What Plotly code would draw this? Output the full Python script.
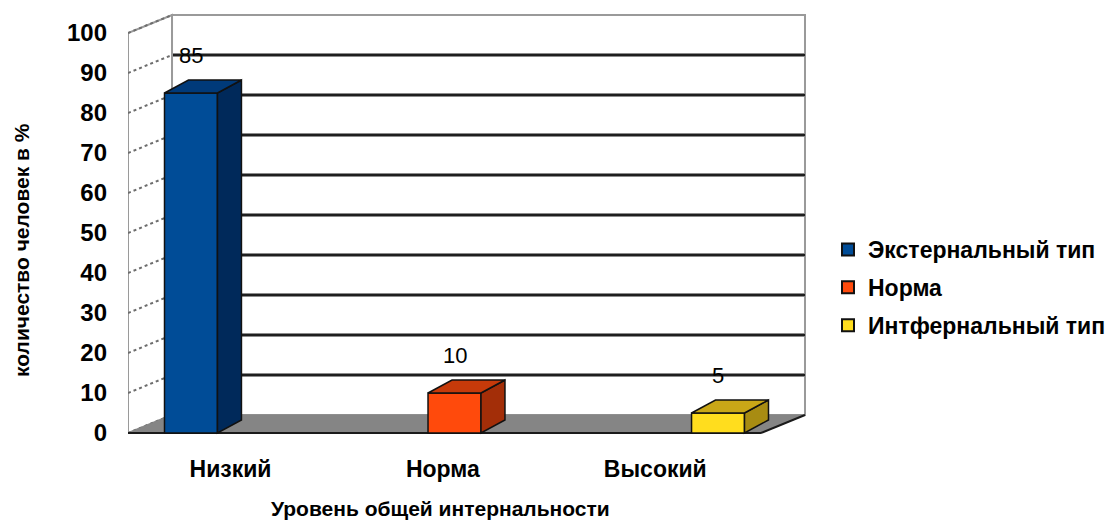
import plotly.graph_objects as go

# ---------------- data ----------------
categories = ["Низкий", "Норма", "Высокий"]
series_names = ["Экстернальный тип", "Норма", "Интфернальный тип"]
values = [85, 10, 5]
y_ticks = [0, 10, 20, 30, 40, 50, 60, 70, 80, 90, 100]
x_title = "Уровень общей интернальности"
y_title = "количество человек в %"

# ---------------- styles ----------------
front_colors = ["#004C97", "#FF4A0C", "#FFDD1E"]
side_colors = ["#00295A", "#A32E08", "#A88C12"]
top_colors = ["#003A7A", "#C63A0A", "#C9A717"]
FONT = "Liberation Sans, Arial, sans-serif"

# geometry (data units)
X_RANGE = [-0.239, 2.349]
Y_RANGE = [-1.75, 105.75]
WDX, WDY = 0.167, 4.5        # wall depth offset
BAR_W = 0.201
BDX, BDY = 0.091, 3.25       # bar depth offset
X_BACK_RIGHT = 2.330
LABEL_POS = [0.15 + 0.806 * i for i in range(len(categories))]

fig = go.Figure()

shapes = []
x0 = X_RANGE[0]
xb = x0 + WDX
xr = X_BACK_RIGHT
top = y_ticks[-1]

# back wall
shapes.append(dict(type="rect", layer="below", xref="x", yref="y",
                   x0=xb, x1=xr, y0=WDY, y1=top + WDY,
                   fillcolor="white", line=dict(color="#9A9A9A", width=2)))
# back-wall gridlines (gray halo + dark line)
for v in y_ticks[1:-1]:
    shapes.append(dict(type="line", layer="below", xref="x", yref="y",
                       x0=xb, x1=xr, y0=v + WDY, y1=v + WDY,
                       line=dict(color="#8C8C8C", width=4)))
    shapes.append(dict(type="line", layer="below", xref="x", yref="y",
                       x0=xb, x1=xr, y0=v + WDY, y1=v + WDY,
                       line=dict(color="#1E1E1E", width=2)))
# left wall
shapes.append(dict(type="path", layer="below", xref="x", yref="y",
                   path=f"M{x0},0 L{x0},{top} L{xb},{top + WDY} L{xb},{WDY} Z",
                   fillcolor="white", line=dict(color="#9A9A9A", width=2)))
for v in y_ticks:
    shapes.append(dict(type="line", layer="below", xref="x", yref="y",
                       x0=x0, x1=xb, y0=v, y1=v + WDY,
                       line=dict(color="#6E6E6E", width=2, dash="dot")))
# floor
shapes.append(dict(type="path", layer="below", xref="x", yref="y",
                   path=f"M{x0},0 L{xr - WDX},0 L{xr},{WDY} L{xb},{WDY} Z",
                   fillcolor="#858585", line=dict(color="#858585", width=1)))
shapes.append(dict(type="line", layer="below", xref="x", yref="y",
                   x0=x0, x1=xr - WDX, y0=0, y1=0,
                   line=dict(color="#1A1A1A", width=2)))
shapes.append(dict(type="line", layer="below", xref="x", yref="y",
                   x0=xr - WDX, x1=xr, y0=0, y1=WDY,
                   line=dict(color="#1A1A1A", width=2)))

# bars
for i, (cat, name, v) in enumerate(zip(categories, series_names, values)):
    fig.add_trace(go.Bar(
        x=[i], y=[v], name=name, width=BAR_W,
        marker=dict(color=front_colors[i], line=dict(color="#111111", width=1.5)),
        legendgroup=name, hoverinfo="skip",
    ))
    xl, xrr = i - BAR_W / 2, i + BAR_W / 2
    # side face
    shapes.append(dict(type="path", layer="above", xref="x", yref="y",
                       path=f"M{xrr},0 L{xrr},{v} L{xrr + BDX},{v + BDY} L{xrr + BDX},{BDY} Z",
                       fillcolor=side_colors[i], line=dict(color="#111111", width=1.5)))
    # top face
    shapes.append(dict(type="path", layer="above", xref="x", yref="y",
                       path=f"M{xl},{v} L{xrr},{v} L{xrr + BDX},{v + BDY} L{xl + BDX},{v + BDY} Z",
                       fillcolor=top_colors[i], line=dict(color="#111111", width=1.5)))

annotations = []
for i, v in enumerate(values):
    annotations.append(dict(x=i, y=v + 9.3, xref="x", yref="y", text=str(v),
                            showarrow=False, font=dict(family=FONT, size=22, color="black")))
annotations.append(dict(x=(440 - 128) / 682, y=-0.16, xref="paper", yref="paper",
                        text=x_title, showarrow=False, xanchor="center", yanchor="middle",
                        font=dict(family=FONT, size=21, color="black", weight="bold")))
annotations.append(dict(x=(21 - 128) / 682, y=(440 - 250) / 430, xref="paper", yref="paper",
                        text=y_title, showarrow=False, textangle=-90,
                        xanchor="center", yanchor="middle",
                        font=dict(family=FONT, size=21, color="black", weight="bold")))

fig.update_layout(
    width=1118, height=526,
    margin=dict(l=128, r=308, t=10, b=86, autoexpand=False),
    paper_bgcolor="white", plot_bgcolor="rgba(0,0,0,0)",
    showlegend=True, barmode="overlay",
    shapes=shapes, annotations=annotations,
    legend=dict(x=(828 - 128) / 682, y=(440 - 228) / 430, xanchor="left", yanchor="top",
                traceorder="grouped", tracegroupgap=5,
                font=dict(family=FONT, size=23, color="black", weight="bold"),
                bgcolor="rgba(0,0,0,0)", itemsizing="constant", itemwidth=30),
    xaxis=dict(range=X_RANGE, showgrid=False, zeroline=False, showline=False,
               tickmode="array", tickvals=LABEL_POS, ticktext=categories, ticks="",
               ticklabelstandoff=13, automargin=False,
               tickfont=dict(family=FONT, size=23, color="black", weight="bold")),
    yaxis=dict(range=Y_RANGE, showgrid=False, zeroline=False, showline=False,
               tickmode="array", tickvals=y_ticks, ticks="",
               ticklabelstandoff=20, automargin=False,
               tickfont=dict(family=FONT, size=24, color="black", weight="bold")),
)

fig.write_html("out.html")
